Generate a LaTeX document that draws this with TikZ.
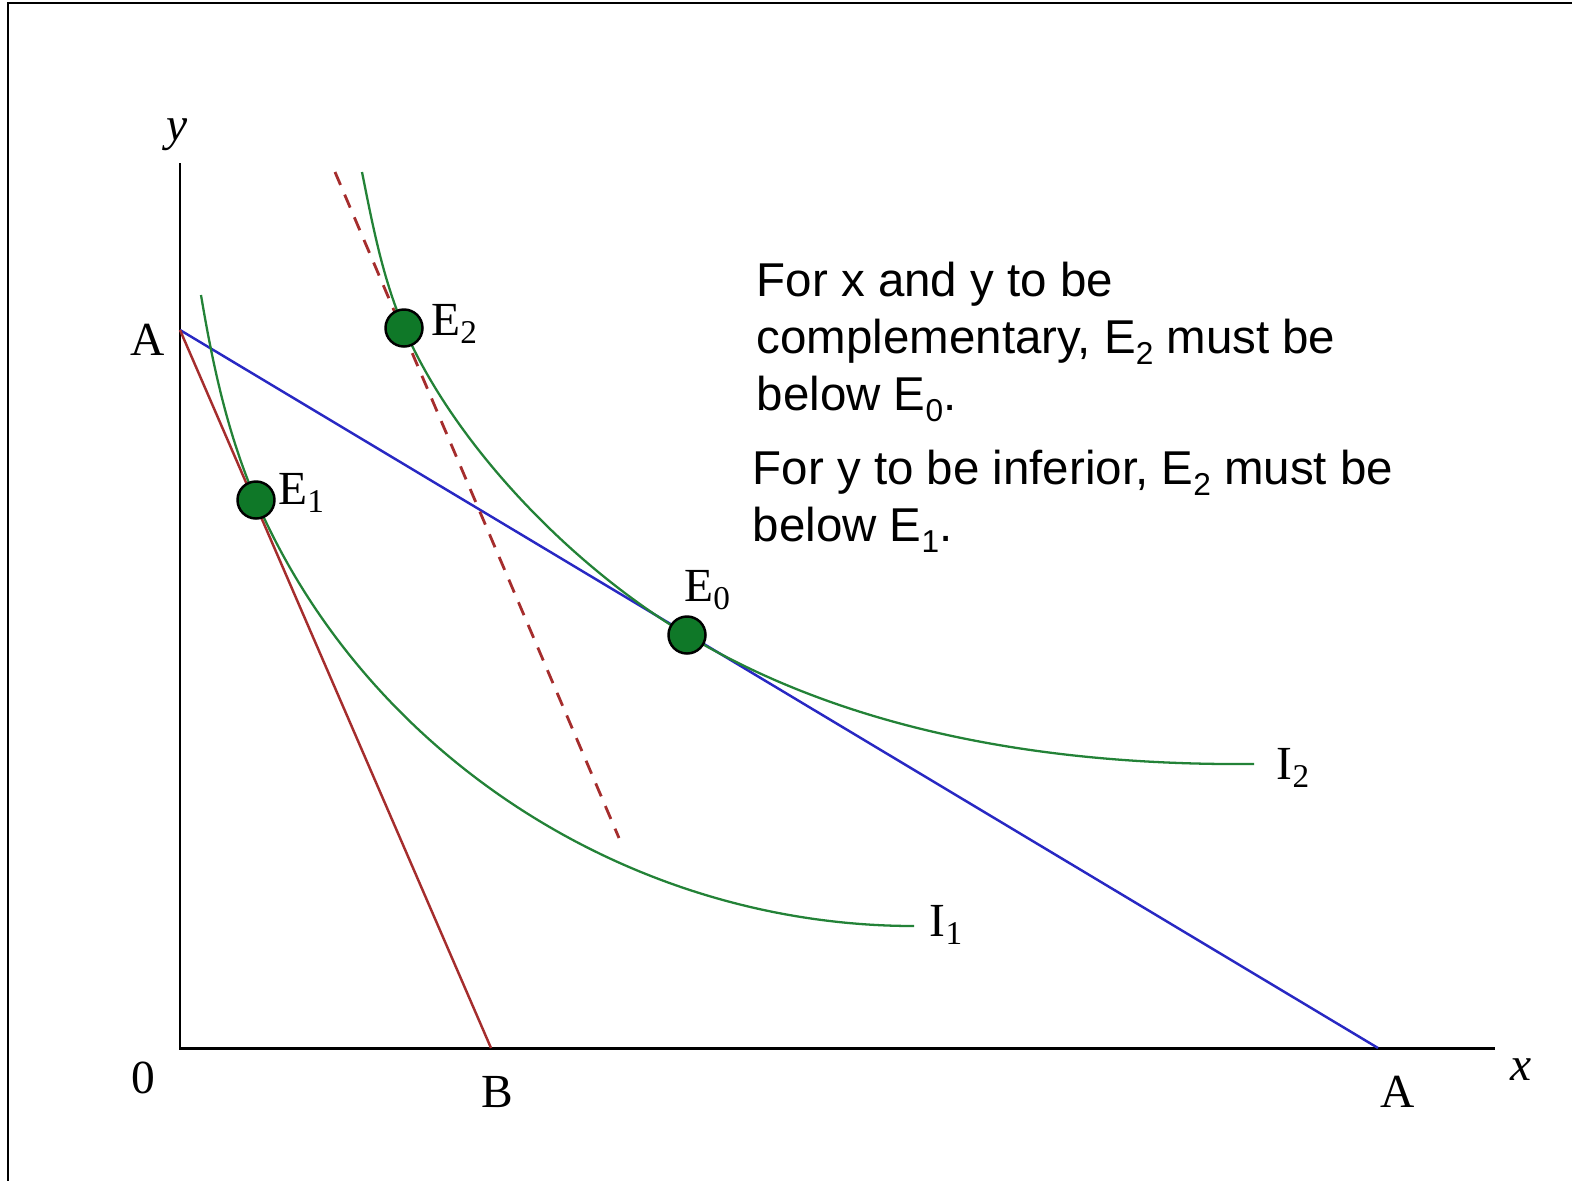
\documentclass[tikz,border=0pt]{standalone}
\usepackage{fontspec}
\setmainfont{Liberation Serif}
\newfontfamily\notefont{Liberation Sans}
\usetikzlibrary{positioning}
\definecolor{icgreen}{RGB}{35,130,55}
\definecolor{dotgreen}{RGB}{15,120,40}
\definecolor{budblue}{RGB}{40,40,195}
\definecolor{budred}{RGB}{165,45,45}
\newcommand{\lowsub}[1]{\raisebox{-0.45ex}{\fontsize{9}{9}\selectfont #1}}

\begin{document}
\begin{tikzpicture}[x=0.01cm,y=-0.01cm,
  axis/.style={line width=0.85pt},
  budget/.style={line width=0.7pt},
  indiff/.style={icgreen,line width=0.65pt},
  dot/.style={circle,draw,fill=dotgreen,line width=0.7pt,minimum size=0.37cm,inner sep=0pt},
  lab/.style={font=\fontsize{13.5}{16}\selectfont,inner sep=0pt},
  note/.style={font=\notefont\fontsize{13.5}{16.2}\selectfont,align=left,anchor=north west,inner sep=0pt}]
\useasboundingbox (0,0) rectangle (1572,1181);
\draw[line width=0.6pt] (1572,3) -- (8,3) -- (8,1181);
% axes
\coordinate (o) at (180,1048);
\coordinate (ytop) at (180,163);
\coordinate (xend) at (1495,1048);
\draw[axis] (ytop) -- (o) -- (xend);
% budget lines
\coordinate (a) at (180,330);
\coordinate (ax) at (1378,1048);
\coordinate (b) at (491,1048);
\coordinate (d1) at (335,172);
\coordinate (d2) at (619,838);
\draw[budget,budblue] (a) -- (ax);
\draw[budget,budred] (a) -- (b);
\draw[budget,budred,line width=0.8pt,dash pattern=on 4pt off 3pt] (d1) -- (d2);
% indifference curves
\coordinate (e0) at (687,635);
\coordinate (e1) at (256,500);
\coordinate (e2) at (404,328);
\coordinate (i1s) at (201,295);
\coordinate (i1e) at (914,926);
\coordinate (i2s) at (362,172);
\coordinate (i2e) at (1254,764);
\draw[indiff] (i1s) .. controls (212.7,365) and (227.8,434.8) .. (e1)
  .. controls (366.7,755.6) and (630,926) .. (i1e);
\draw[indiff] (i2s) .. controls (372.6,225) and (382.7,278.4) .. (e2)
  .. controls (451.6,439) and (564.8,561.8) .. (e0)
  .. controls (830.6,721) and (1019,766) .. (i2e);
% equilibria
\node[dot] (E0) at (e0) {};
\node[dot] (E1) at (e1) {};
\node[dot] (E2) at (e2) {};
\node[lab] (E0lab) at (708,590) {E\textsubscript{0}};
\node[lab] (E1lab) at (302,493) {E\textsubscript{1}};
\node[lab] (E2lab) at (455,324) {E\textsubscript{2}};
\node[lab] (I1lab) at (947,925) {I\textsubscript{1}};
\node[lab] (I2lab) at (1294,768) {I\textsubscript{2}};
% axis labels
\node[lab] (ylab) at (177,135) {\textit{y}};
\node[lab] (xlab) at (1521,1070) {\textit{x}};
\node[lab] (zero) at (143,1078) {0};
\node[lab] (Blab) at (497,1092) {B};
\node[lab] (Alab) at (1398,1092) {A};
\node[lab] (Aylab) at (148,340) {A};
% notes
\node[note] (note1) at (756,261) {For x and y to be\\complementary, E\lowsub{2} must be\\below E\lowsub{0}.};
\node[note] (note2) at (752,449) {For y to be inferior, E\lowsub{2} must be\\below E\lowsub{1}.};
\end{tikzpicture}
\end{document}
